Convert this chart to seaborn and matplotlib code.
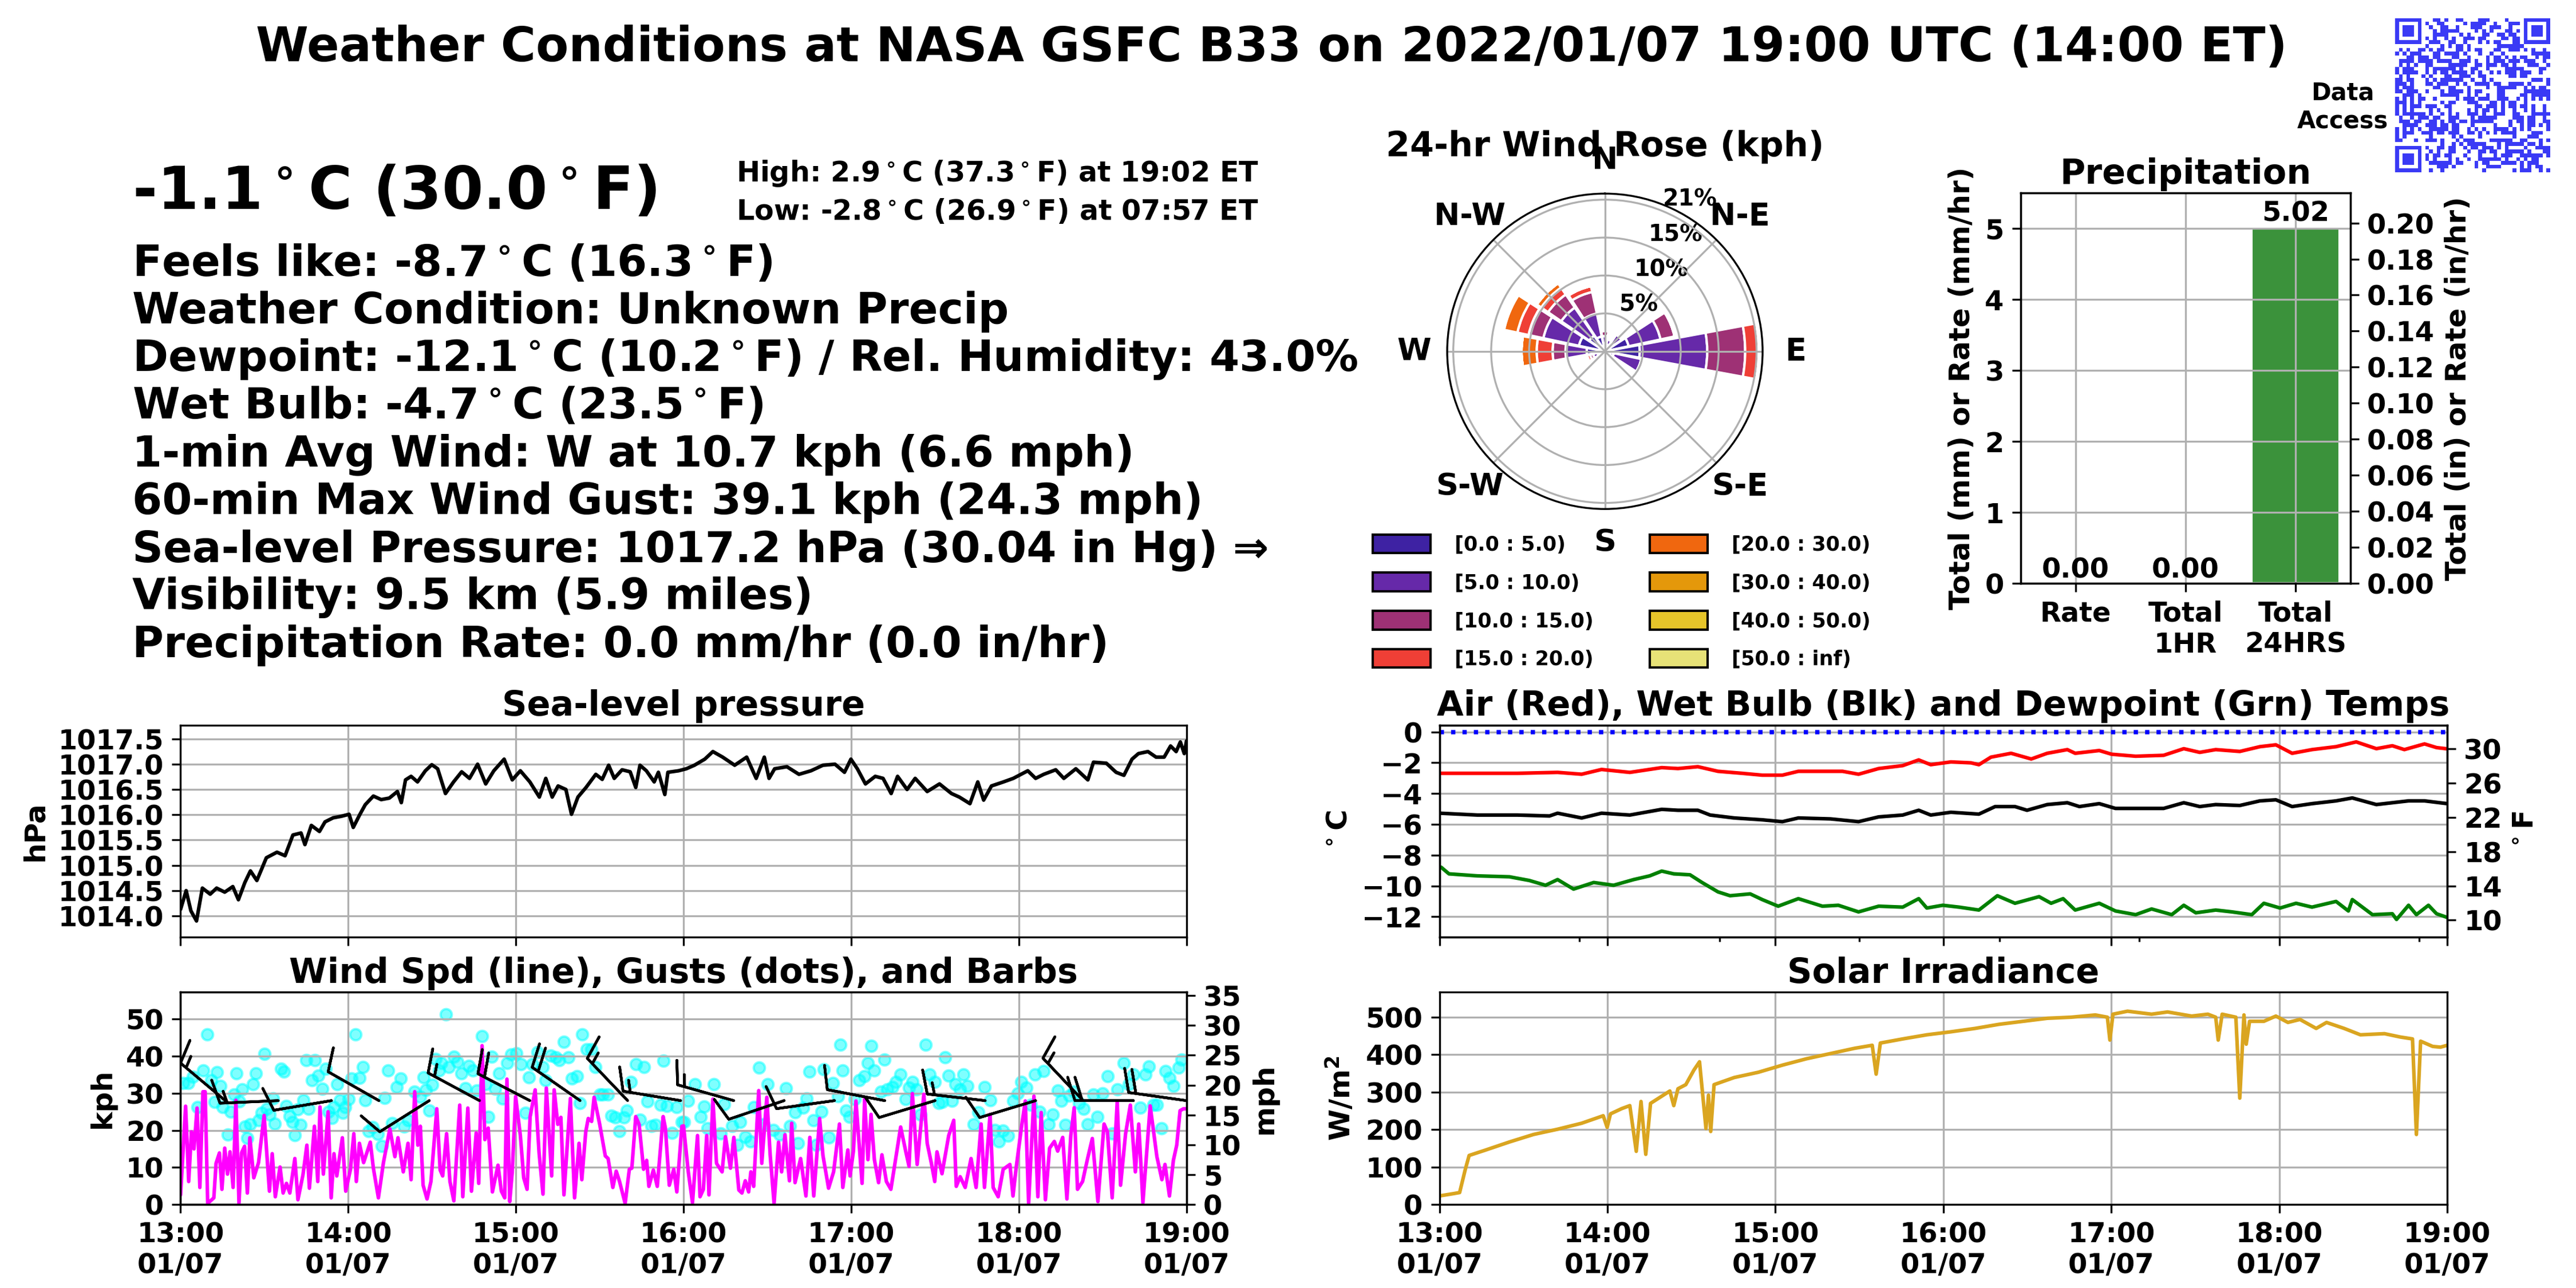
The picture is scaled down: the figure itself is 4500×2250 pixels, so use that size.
import hashlib
import numpy as np
import pandas as pd
import seaborn as sns
import matplotlib
matplotlib.use("Agg")
import matplotlib.pyplot as plt
import matplotlib.dates as mdates
from matplotlib.colors import ListedColormap
from matplotlib.patches import Patch
from matplotlib.ticker import FixedLocator, FormatStrFormatter

# ---------------- data ----------------
T0 = pd.Timestamp("2022-01-07 13:00")

title = "Weather Conditions at NASA GSFC B33 on 2022/01/07 19:00 UTC (14:00 ET)"
now_temp = "-1.1$^\\circ$C (30.0$^\\circ$F)"
high_txt = "High: 2.9$^\\circ$C (37.3$^\\circ$F) at 19:02 ET"
low_txt = "Low: -2.8$^\\circ$C (26.9$^\\circ$F) at 07:57 ET"
info_lines = [
    "Feels like: -8.7$^\\circ$C (16.3$^\\circ$F)",
    "Weather Condition: Unknown Precip",
    "Dewpoint: -12.1$^\\circ$C (10.2$^\\circ$F) / Rel. Humidity: 43.0%",
    "Wet Bulb: -4.7$^\\circ$C (23.5$^\\circ$F)",
    "1-min Avg Wind: W at 10.7 kph (6.6 mph)",
    "60-min Max Wind Gust: 39.1 kph (24.3 mph)",
    "Sea-level Pressure: 1017.2 hPa (30.04 in Hg) \u21d2",
    "Visibility: 9.5 km (5.9 miles)",
    "Precipitation Rate: 0.0 mm/hr (0.0 in/hr)",
]

# sea-level pressure (minutes after 13:00, hPa)
slp_min = [0, 2, 3.7, 5.7, 7.8, 10.6, 12.9, 15.8, 18.7, 20.7,
           23, 25, 27.3, 30.7, 34.5, 37.4, 40.2, 43.1, 44.5, 46.8,
           49.7, 51.7, 54.6, 57.5, 60.3, 61.8, 64.1, 66.1, 69, 71.8,
           74.7, 77.6, 79, 80.5, 82.5, 84.8, 87.6, 89.9, 92, 94.8,
           97.7, 100.6, 103.4, 106.3, 109.2, 112.1, 115.8, 118.7, 121.6, 125,
           128.4, 130.7, 133, 135.1, 137.9, 139.9, 142.2, 145.1, 148.6, 150.9,
           153.2, 155.2, 158, 160.9, 162.9, 164.4, 166.7, 169.5, 171, 173.3,
           174.4, 178.2, 181, 183.9, 187.6, 190.5, 194, 198.3, 202.6, 206,
           208.9, 210.6, 212.6, 217, 221.3, 225.6, 229.9, 234.2, 237.6, 239.9,
           242.2, 245.1, 248.6, 251.4, 254.3, 256.6, 260, 262.9, 267.2, 271.6,
           275.9, 278.7, 282.5, 285.3, 287.4, 290.2, 294.5, 298, 303.2, 306,
           308.9, 313.2, 316.1, 320.4, 324.7, 326.7, 331.3, 334.8, 337.6, 340.5,
           342.8, 346.2, 349.1, 352, 354.3, 356.3, 357.8, 359.2, 360]
slp_hpa = [1014.13, 1014.5, 1014.1, 1013.9, 1014.55, 1014.43, 1014.55, 1014.47, 1014.58, 1014.32,
           1014.66, 1014.89, 1014.7, 1015.15, 1015.26, 1015.19, 1015.6, 1015.64, 1015.41, 1015.79,
           1015.67, 1015.86, 1015.94, 1015.97, 1016.01, 1015.75, 1016.0, 1016.2, 1016.37, 1016.3,
           1016.33, 1016.46, 1016.24, 1016.69, 1016.76, 1016.65, 1016.87, 1016.99, 1016.91, 1016.42,
           1016.65, 1016.85, 1016.72, 1017.0, 1016.61, 1016.87, 1017.1, 1016.69, 1016.87, 1016.65,
           1016.35, 1016.72, 1016.35, 1016.57, 1016.5, 1016.01, 1016.35, 1016.54, 1016.8, 1016.7,
           1016.98, 1016.72, 1016.89, 1016.85, 1016.54, 1016.98, 1016.87, 1016.65, 1016.84, 1016.4,
           1016.84, 1016.87, 1016.91, 1016.98, 1017.1, 1017.25, 1017.14, 1016.98, 1017.14, 1016.72,
           1017.14, 1016.72, 1016.91, 1016.95, 1016.8, 1016.87, 1016.98, 1017.0, 1016.84, 1017.1,
           1016.91, 1016.61, 1016.76, 1016.72, 1016.42, 1016.76, 1016.5, 1016.72, 1016.46, 1016.61,
           1016.42, 1016.35, 1016.22, 1016.65, 1016.29, 1016.57, 1016.65, 1016.72, 1016.87, 1016.72,
           1016.8, 1016.89, 1016.72, 1016.91, 1016.69, 1017.04, 1017.02, 1016.84, 1016.78, 1017.1,
           1017.21, 1017.25, 1017.14, 1017.14, 1017.36, 1017.25, 1017.44, 1017.21, 1017.46]

# 1-min wind speed (kph)
spd_min = [0, 1.8, 2.9, 3.9, 4.8, 5.9, 6.9, 8, 8.8, 9.7,
           11.9, 12.7, 13.9, 14.8, 15.8, 16.8, 17.7, 18.8, 19.8, 20.9,
           21.8, 22.9, 23.9, 24.8, 26.2, 27.9, 29.9, 31.8, 32.8, 33.9,
           35.6, 36.7, 37.9, 39.1, 40.9, 42, 43.8, 45.2, 46.1, 47.9,
           49.1, 49.9, 51.1, 52.8, 53.9, 54.9, 55.9, 57.9, 59.1, 60.8,
           62, 62.9, 64, 65.5, 67.9, 69, 70.8, 72.6, 74.9, 76.7,
           77.8, 79.7, 81.4, 82.5, 83.8, 84.9, 85.8, 86.8, 88.2, 89.6,
           91.7, 92.9, 93.8, 95.2, 96.4, 97.8, 99.9, 101, 102.8, 104.1,
           105.8, 106.7, 107.9, 108.9, 110.1, 111.6, 113.6, 114.8, 116, 116.8,
           117.8, 118.7, 119.9, 121.6, 122.8, 124, 125.1, 126.9, 128.3, 129.7,
           130.9, 132.8, 133.7, 135, 136.1, 137.2, 139.5, 141, 142.6, 143.6,
           145, 145.9, 147.1, 148, 150, 152, 153, 154.7, 155.9, 157.1,
           159.1, 160.6, 161.5, 162.9, 164.1, 165.7, 166.8, 167.6, 169.2, 170.6,
           172.7, 173.5, 174.9, 176.5, 177.6, 179.4,
           180, 181.7, 183.2, 185, 185.9, 187.1, 188.3, 189.1, 190.5, 191.8,
           193.8, 195, 196.8, 198, 199.8, 200.9, 202.1, 203.3, 204.1, 205.1,
           206.9, 208, 209.8, 211, 212.4, 214, 215.1, 216.3, 217.9, 218.7,
           219.9, 221.9, 223.8, 225.2, 226.6, 228.7, 229.9, 231.9, 233.7, 235.8,
           237, 238.8, 239.6, 240.8, 241.7, 243.9, 244.8, 246, 247.1, 248.3,
           249.8, 251, 252.6, 254.2, 257.7, 259.5, 260.7, 261.9, 263.6, 266,
           267.2, 268.7, 269.9, 270.7, 272.5, 274.9, 276.7, 277.6, 279, 280.8,
           282.9, 284.7, 286.5, 287.7, 289.7, 290.8, 292.6, 294.4, 296.8, 297.9,
           299.1, 300.9, 302.3, 303.5, 305.4, 306.8, 308, 309.5, 311, 312.7,
           313.9, 315.7, 317.2, 318.6, 319.8, 321, 322.8, 324.6, 326.3, 328.3,
           330.5, 331.7, 333.4, 335.2, 336.4, 338.2, 339.9, 341.7, 342.9, 344.4,
           347, 349.4, 351.2, 352.3, 353.9, 355.3, 356.5, 357.7, 358.9, 360]
spd_kph = [2.6, 26.5, 6.2, 19.6, 15, 26, 4.6, 30.4, 30.4, 0.3,
           1.8, 11.1, 13.9, 4.1, 15.2, 8.2, 14.2, 4.6, 28.1, 0.3,
           13.9, 15.7, 3.1, 18, 7.2, 11.3, 24, 3.6, 13.7, 2.1,
           10.1, 3.1, 5.7, 3.1, 12.4, 1.3, 8, 16, 4.4, 21.1,
           6.2, 26.3, 8.2, 25, 1.8, 13.7, 7.7, 18, 3.6, 9.5,
           19.1, 6.2, 16.5, 11.3, 16.8, 9.8, 1.8, 11.3, 20.4, 12.9,
           18, 8.8, 16.5, 6.7, 30.4, 16, 21.1, 5.2, 1.5, 6.2,
           25.8, 9.3, 7.7, 19.1, 6.2, 1, 26.8, 2.1, 26, 3.6,
           19.3, 5.7, 42.8, 17.5, 20.6, 3.4, 10.6, 3.6, 1.8, 33.8,
           0.8, 8.8, 29.1, 18.6, 7.2, 4.1, 23.7, 30.9, 13.9, 2.8,
           31.4, 7.7, 30.9, 21.6, 23.5, 2.6, 28.6, 1.8, 16.5, 6.7,
           19.6, 23.2, 22.4, 28.9, 21.6, 13.1, 12.4, 4.6, 9, 6.2,
           0.3, 9.5, 9.8, 23.7, 21.6, 9.5, 11.9, 4.9, 9.3, 4.9,
           23.7, 20.6, 5.2, 9.5, 3.4, 21.1,
           21.2, 8.8, 0.5, 18.6, 2.1, 4.1, 18.6, 2.6, 28.4, 11.1,
           8.8, 18.3, 9.8, 18.1, 3.9, 3.1, 6.4, 3.4, 8.8, 4.9,
           30.7, 11.1, 28.9, 13.4, 0.3, 16.8, 8.8, 18.8, 6.4, 21.9,
           5.9, 12.4, 2.3, 18.1, 2.3, 23.2, 13.2, 4.4, 8.8, 21.7,
           4.6, 14.7, 7.7, 14.4, 27.9, 5.7, 28.4, 12.1, 24.3, 12.1,
           5.9, 13.4, 6.2, 4.1, 20.9, 14.4, 10.3, 29.9, 10.8, 29.7,
           16.5, 11.1, 6.2, 14.2, 8.3, 18.6, 22.7, 4.9, 7.5, 4.6,
           12.4, 4.6, 21.7, 4.6, 24.3, 4.6, 2.1, 9.5, 10.8, 2.3,
           10.3, 20.6, 27.9, 0.3, 29.2, 2.1, 24.8, 1.3, 15.2, 17,
           14.4, 18.1, 1.5, 18.6, 26.1, 4.1, 6.2, 12.4, 17.8, 0.8,
           21.7, 19.6, 1.8, 27.6, 5.2, 19.1, 26.8, 8.8, 21.7, 0.5,
           26.6, 12.9, 6.7, 10.8, 2.3, 11.9, 16, 25.3, 25.8, 25.8]

# wind gusts (kph)
gust_min = [1, 2.7, 4.5, 6, 8, 9.5, 10.9, 12.1, 13, 14.2,
            15, 17, 18, 19.1, 20, 21, 22, 23, 23.8, 25,
            26, 27, 27.9, 29, 30, 30.9, 31.8, 33, 33.8, 35.9,
            37, 37.9, 39.1, 40, 40.9, 42, 43, 44, 45, 45.9,
            47.1, 48.1, 49.3, 50.8, 52, 53, 54.1, 54.9, 56.1, 57.1,
            58.1, 59, 60.2, 61.2, 62.6, 64, 65.2, 66.1, 67.3, 68.7,
            70.6, 72, 73.1, 74.3, 75.7, 77.3, 78.8, 80, 81.4, 83.7,
            85.8, 87, 87.8, 89, 90, 91.3, 92.5, 93.4, 94.9, 96,
            97.8, 99, 100.4, 101.9, 103.1, 104.6, 106, 107.8, 109, 110.1,
            111.3, 112.5, 114, 115.2, 116.8, 118.3, 120.1, 121.9, 123.4, 124.6,
            126, 127.7, 129.5, 130.7, 132.4, 134.2, 135.6, 137.1, 138.9, 140,
            141.8, 143, 143.8, 145.3, 147.1, 148.5, 150, 151.2, 153, 154.1,
            155.6, 157.1, 158.6, 159.8, 161.2, 163, 164.5, 165.9, 167.1, 168.5,
            170, 171.8, 172.9, 174.1, 175.9, 177.6, 179.4,
            180.2, 181.7, 184, 186.2, 187.3, 188.5, 190.9, 193.3, 194.6, 197.4,
            199.2, 200.3, 202.1, 203.9, 205.1, 207.1, 208.6, 210, 212.2, 214.5,
            216.7, 218.1, 219.9, 221, 222.8, 224, 225, 226.4, 227.6, 229.3,
            230.2, 232.1, 233.5, 235.2, 236.1, 237, 238.2, 239.4, 241.2, 242.9,
            244.7, 245.9, 247.1, 248.3, 250.6, 251.8, 253, 254.8, 256, 257.7,
            259.5, 260.7, 261.9, 263.3, 264.9, 266.6, 268, 269.9, 271.3, 272.5,
            273.7, 274.9, 276, 277.2, 279, 280.2, 281.7, 283.8, 285.5, 287.7,
            289.7, 291.4, 292.9, 294.4, 296.2, 297.9, 299.7, 300.9, 302.7, 304.4,
            305.8, 307.4, 308.9, 310.6, 312.1, 313.9, 315.1, 316.6, 318.1, 319.8,
            321.6, 323.1, 324.6, 326.7, 328.1, 329.9, 331.7, 333.5, 335.2, 337.6,
            339.4, 341.1, 343.5, 345.3, 346.5, 348.2, 349.5, 351.1, 352.4, 353.9,
            355.3, 357.1, 358.3]
gust_kph = [32.7, 32.7, 34.5, 26.3, 36.1, 45.9, 33.5, 27.6, 35.7, 32,
            26.2, 18.8, 25, 29.6, 35.3, 27.8, 31, 21, 17.9, 21.6,
            32.5, 35.3, 22.7, 24.7, 40.6, 25.8, 24.2, 28.6, 21.8, 36.6,
            35.8, 26.5, 23.8, 22.2, 18.7, 25.7, 21.4, 28.1, 38.9, 25.8,
            33.5, 38.9, 34.8, 31.2, 36.6, 25, 23.3, 26.2, 32.5, 28.1,
            24.7, 26.3, 28.4, 34, 45.9, 34.1, 37.1, 28.1, 19.8, 20.9,
            19, 15.7, 28.8, 36.1, 21.9, 31.7, 33.9, 21, 22.7, 30.4,
            29.1, 34.3, 30.9, 25.3, 32.2, 39.2, 36.1, 38.1, 51.3, 37.1,
            39.9, 38.4, 35.3, 31.4, 37.4, 36.1, 30.7, 45.4, 32.5, 23.7,
            39.9, 31.2, 35.3, 28.6, 38.2, 40.5, 40.7, 37.9, 24.7, 34.3,
            37.9, 41, 37.1, 33.5, 40.2, 39.7, 38.9, 43.8, 39.7, 34,
            34.6, 27.3, 45.9, 41.8, 41.8, 37.1, 29.6, 29.6, 29.6, 24,
            23.5, 19.8, 23.5, 25.3, 33, 37.9, 22.9, 37.1, 27.8, 21.1,
            21.4, 26.8, 38.7, 26.5, 19.3, 26.3, 22.2,
            22.2, 27.9, 32.5, 23.7, 26.4, 20.6, 32.5, 19.1, 27.1, 21.2,
            16, 22.2, 18.3, 17, 26.3, 36.9, 21.7, 32.5, 20.1, 18.8,
            31.4, 21.1, 24.8, 16.5, 26.1, 28.6, 35.8, 22.7, 16, 25,
            36.4, 18.1, 32.8, 29.2, 43.1, 36.1, 25.3, 23.7, 28.4, 33.5,
            34.6, 38.2, 42.7, 36.1, 30.4, 39, 31, 31.7, 33, 35.1,
            28.4, 31.5, 33, 31, 24.3, 43.1, 35.1, 33, 27.3, 27.6,
            39.7, 34.8, 27.9, 32.5, 31, 35.1, 32, 21.7, 24.8, 31.7,
            28.1, 20.1, 17, 19.9, 18.6, 27.9, 29.9, 33, 31.5, 26.8,
            35.1, 25, 35.9, 21.7, 24.3, 30.7, 27.9, 21.4, 29.4, 30.4,
            27.3, 25.8, 21.7, 29.7, 23.7, 29.9, 34.6, 19.1, 31, 38.2,
            32.5, 35.1, 26.1, 35.1, 37.2, 26.8, 26.9, 20.6, 35.9, 34.1,
            32, 36.9, 39]

# wind barbs (direction wind comes from, deg; speed)
barb_min = [16, 35, 54, 71, 89, 107, 125, 143, 160, 179,
            198, 216, 234, 252, 270, 288, 306, 323, 341, 360]
barb_dir = [310, 267.5, 260.5, 299.6, 237.8, 298.3, 297.4, 304.8, 316.3, 279.3,
            285.7, 251.4, 262.1, 280.8, 253.2, 276.5, 253.2, 316.6, 270, 278]
barb_spd = [15, 15, 10, 10, 10, 15, 20, 20, 15, 15,
            15, 10, 10, 10, 10, 15, 10, 15, 20, 20]

# temperatures (deg C)
air_min = [0, 13.5, 27.8, 42.2, 50.8, 57.9, 68, 79.4, 85.2, 92.3,
           99.5, 108.1, 115.3, 122.5, 128.2, 136.8, 144, 149.7, 156.9, 165.5,
           171.2, 175.5, 182.7, 189.9, 192.7, 197, 204.2, 211.4, 217.1, 224.3,
           227.1, 235.7, 240.1, 248.7, 258.7, 265.9, 271.6, 277.3, 285.9, 293.1,
           298.8, 304.6, 311.7, 320.3, 327.5, 334.7, 340.4, 344.7, 351.9, 356.2, 360]
air_c = [-2.69, -2.69, -2.69, -2.63, -2.75, -2.44, -2.63, -2.32, -2.38, -2.26,
         -2.56, -2.69, -2.81, -2.81, -2.56, -2.56, -2.56, -2.75, -2.38, -2.19,
         -1.82, -2.13, -1.95, -2.01, -2.13, -1.64, -1.39, -1.76, -1.39, -1.15,
         -1.39, -1.21, -1.45, -1.58, -1.52, -1.09, -1.33, -1.15, -1.27, -0.96,
         -0.84, -1.39, -1.15, -0.96, -0.65, -1.09, -0.9, -1.15, -0.78, -1.02, -1.1]
wb_min = [0, 13.5, 27.8, 39.3, 42.2, 50.8, 57.9, 68, 79.4, 85.2,
          92.3, 96.7, 105.3, 115.3, 122.5, 128.2, 139.7, 149.7, 156.9, 165.5,
          171.2, 175.5, 182.7, 192.7, 198.5, 205.6, 209.9, 217.1, 224.3, 228.6,
          235.7, 241.5, 248.7, 258.7, 265.9, 271.6, 277.3, 285.9, 293.1, 298.8,
          304.6, 311.7, 320.3, 326.1, 334.7, 340.4, 346.2, 351.9, 360]
wb_c = [-5.28, -5.4, -5.4, -5.46, -5.28, -5.59, -5.28, -5.4, -5.03, -5.09,
        -5.09, -5.4, -5.59, -5.71, -5.83, -5.59, -5.65, -5.83, -5.52, -5.4,
        -5.09, -5.4, -5.22, -5.34, -4.85, -4.85, -5.09, -4.72, -4.6, -4.85,
        -4.66, -4.97, -4.97, -4.97, -4.6, -4.85, -4.72, -4.78, -4.48, -4.41,
        -4.85, -4.66, -4.48, -4.29, -4.72, -4.6, -4.48, -4.48, -4.66]
dew_min = [0.6, 3.4, 13.5, 25, 32.1, 37.9, 42.2, 47.9, 55.1, 62.2,
           69.4, 75.1, 79.4, 83.7, 89.5, 93.8, 99.5, 103.8, 111, 115.3,
           121, 128.2, 136.8, 142.5, 149.7, 156.9, 165.5, 171.2, 174.1, 179.8,
           185.6, 192.7, 199.3, 205.6, 214.2, 218.5, 222.8, 227.1, 235.7, 241.5,
           248.7, 254.4, 261.6, 265.9, 270.2, 277.3, 283.1, 290.2, 294.5, 300.3,
           306, 311.7, 320.3, 324.7, 326.1, 333.3, 340.4, 341.9, 346.2, 349,
           353.3, 356.2, 360]
dew_c = [-8.79, -9.22, -9.35, -9.41, -9.65, -9.96, -9.59, -10.21, -9.78, -9.96,
         -9.59, -9.35, -9.04, -9.22, -9.28, -9.78, -10.39, -10.64, -10.52, -10.89,
         -11.32, -10.83, -11.32, -11.26, -11.69, -11.32, -11.38, -10.83, -11.44, -11.26,
         -11.38, -11.57, -10.64, -11.13, -10.7, -11.13, -10.83, -11.57, -11.13, -11.63,
         -11.87, -11.5, -11.87, -11.26, -11.75, -11.57, -11.69, -11.87, -11.13, -11.44,
         -11.13, -11.38, -11.01, -11.63, -10.89, -11.87, -11.81, -12.18, -11.26, -11.87,
         -11.26, -11.81, -12.05]

# solar irradiance (W/m2)
sol_min = [0, 4.9, 7.2, 9.2, 10.6, 16.3, 25, 33.6, 42.2, 50.8,
           58.5, 59.9, 61.1, 65.1, 68, 70.3, 72, 73.7, 75.4, 82.3,
           83.7, 85.2, 88, 90.9, 92.9, 95.2, 96.1, 96.9, 98.1, 105.3,
           113.9, 122.5, 131.1, 139.7, 148.3, 154.6, 156, 157.5, 165.5, 174.1,
           182.7, 191.3, 199.9, 208.5, 217.1, 225.7, 234.3, 238.6, 239.5, 240.6,
           245.8, 254.4, 260.1, 268.7, 274.5, 277.3, 278.2, 279.6, 284.5, 285.9,
           287.4, 288.2, 289.4, 294.5, 298.8, 303.1, 307.4, 313.2, 316.9, 323.2,
           329, 337.6, 343.3, 347.6, 349, 350.5, 354.8, 357.6, 360]
sol_w = [23, 29, 32, 93, 131, 145, 167, 187, 201, 217,
         237, 206, 242, 256, 264, 142, 275, 134, 270, 303,
         264, 309, 320, 359, 381, 203, 292, 195, 320, 339,
         353, 372, 389, 403, 417, 425, 348, 431, 442, 453,
         461, 470, 481, 489, 497, 500, 506, 500, 439, 508,
         516, 508, 514, 503, 508, 500, 439, 508, 500, 284,
         506, 428, 489, 489, 503, 486, 494, 470, 486, 470,
         453, 456, 447, 442, 187, 436, 422, 420, 425]

# precipitation
precip_cats = ["Rate", "Total\n1HR", "Total\n24HRS"]
precip_mm = [0.0, 0.0, 5.02]

# 24-hr wind rose: percent of time per direction, stacked by speed bin
rose_dirs = ["N", "NNE", "NE", "ENE", "E", "ESE", "SE", "SSE",
             "S", "SSW", "SW", "WSW", "W", "WNW", "NW", "NNW"]
rose_bins = ["[0.0 : 5.0)", "[5.0 : 10.0)", "[10.0 : 15.0)", "[15.0 : 20.0)",
             "[20.0 : 30.0)", "[30.0 : 40.0)", "[40.0 : 50.0)", "[50.0 : inf)"]
rose_b0 = [1.0, 0.9, 1.4, 3.2, 4.6, 1.2, 0, 0, 0, 0, 0, 1.0, 2.4, 3.5, 2.5, 2.0]
rose_b1 = [1.0, 0.7, 1.3, 4.3, 8.9, 3.7, 0, 0, 0, 0, 0, 0.6, 2.8, 4.8, 4.5, 3.1]
rose_b2 = [0.7, 0, 0, 1.9, 5.0, 0.4, 0, 0, 0, 0, 0, 0.4, 1.7, 2.0, 2.1, 2.9]
rose_b3 = [0, 0, 0, 0, 1.8, 0, 0, 0, 0, 0, 0, 0.4, 2.1, 1.5, 1.1, 0.8]
rose_b4 = [0, 0, 0, 0, 0, 0, 0, 0, 0, 0, 0, 0.3, 2.0, 1.8, 0.7, 0]
rose_b5 = [0, 0, 0, 0, 0, 0, 0, 0, 0, 0, 0, 0, 0, 0.15, 0, 0]
rose_b6 = [0] * 16
rose_b7 = [0] * 16
rose_colors = ["#3e22a3", "#6629a9", "#9e3175", "#ef3f36",
               "#f0670f", "#e4980b", "#e6c52a", "#e7e277"]

# ---------------- style ----------------
sns.set_style("ticks")
plt.rcParams.update({
    "font.family": ["DejaVu Sans"],
    "font.weight": "bold",
    "axes.titleweight": "bold",
    "axes.labelweight": "bold",
    "axes.edgecolor": "black",
    "axes.labelcolor": "black",
    "text.color": "black",
    "xtick.color": "black",
    "ytick.color": "black",
    "axes.linewidth": 0.8,
    "xtick.major.width": 0.8,
    "ytick.major.width": 0.8,
    "xtick.major.size": 3.5,
    "ytick.major.size": 3.5,
    "grid.color": "#b0b0b0",
    "grid.linewidth": 0.8,
    "axes.axisbelow": "line",
})

TICK = 11.5
LAB = 12
TTL = 14.5


def tt(mins):
    return T0 + pd.to_timedelta(np.asarray(mins, dtype=float), unit="min")


fig = plt.figure(figsize=(15, 7.5), dpi=300)

# ---------------- text block ----------------
fig.text(0.4936, 0.9524, title, ha="center", va="baseline", fontsize=20)
fig.text(0.0513, 0.838, now_temp, ha="left", va="baseline", fontsize=25)
fig.text(0.2858, 0.859, high_txt, ha="left", va="baseline", fontsize=11.8)
fig.text(0.2858, 0.8295, low_txt, ha="left", va="baseline", fontsize=11.8)
for i, line in enumerate(info_lines):
    fig.text(0.0513, 0.7859 - i * 0.0370, line, ha="left", va="baseline", fontsize=18)

# ---------------- QR code ----------------
n = 41
seed = b"https://science.gsfc.nasa.gov/weather/data"
bits = []
k = 0
while len(bits) < n * n:
    for byte in hashlib.sha256(seed + str(k).encode()).digest():
        bits.extend((byte >> b) & 1 for b in range(8))
    k += 1
qr = np.array(bits[:n * n]).reshape(n, n)


def finder(m, r, c):
    m[r:r + 8, c:c + 8] = 0
    m[r:r + 7, c:c + 7] = 1
    m[r + 1:r + 6, c + 1:c + 6] = 0
    m[r + 2:r + 5, c + 2:c + 5] = 1


finder(qr, 0, 0)
qr[0:7, n - 8:n] = 0
finder(qr, 0, n - 7)
qr[n - 8:n, 0:8] = 0
finder(qr, n - 7, 0)
ax_q = fig.add_axes([0.9298, 0.866, 0.060, 0.120])
ax_q.imshow(qr, cmap=ListedColormap(["white", "#3a3af5"]), interpolation="nearest", aspect="auto")
ax_q.axis("off")
fig.text(0.9271, 0.917, "Data\nAccess", ha="right", va="center", fontsize=10,
         multialignment="center")

# ---------------- wind rose ----------------
ax_r = fig.add_axes([0.5618, 0.6048, 0.12244, 0.24489], projection="polar")
ax_r.set_theta_zero_location("N")
ax_r.set_theta_direction(-1)
theta = np.deg2rad(np.arange(len(rose_dirs)) * 22.5)
width = np.deg2rad(22.5) * 0.93
bottom = np.zeros(len(rose_dirs))
handles = []
for vals, col, lab in zip([rose_b0, rose_b1, rose_b2, rose_b3, rose_b4, rose_b5, rose_b6, rose_b7],
                          rose_colors, rose_bins):
    vals = np.asarray(vals, dtype=float)
    ax_r.bar(theta, vals, width=width, bottom=bottom, color=col,
             edgecolor="white", linewidth=1.0)
    bottom = bottom + vals
    handles.append(Patch(facecolor=col, edgecolor="black", linewidth=1.0, label=lab))
ax_r.set_rlim(0, 20.8)
ax_r.set_rticks([5, 10, 15, 20])
ax_r.set_yticklabels(["5%", "10%", "15%", "21%"], fontsize=9.5)
ax_r.set_thetagrids(np.arange(0, 360, 45),
                    labels=["N", "N-E", "E", "S-E", "S", "S-W", "W", "N-W"])
ax_r.tick_params(axis="x", labelsize=13, pad=3.5)
ax_r.grid(True)
ax_r.set_title("24-hr Wind Rose (kph)", fontsize=TTL, y=1.119, pad=0)
fig.legend(handles=handles, ncol=2, loc="upper left", bbox_to_anchor=(0.5258, 0.599),
           frameon=False, fontsize=8.4, handlelength=2.9, handleheight=1.05,
           labelspacing=0.9, columnspacing=2.8, handletextpad=1.2)

# ---------------- precipitation ----------------
ax_pr = fig.add_axes([0.7844, 0.547, 0.128, 0.303])
sns.barplot(x=precip_cats, y=precip_mm, color="#3b923b", saturation=1, width=0.8, ax=ax_pr)
for c in ax_pr.containers:
    ax_pr.bar_label(c, fmt="%.2f", fontsize=11.5, fontweight="bold", padding=0)
ax_pr.set_ylim(0, 5.5)
ax_pr.set_yticks(range(0, 6))
ax_pr.grid(True)
ax_pr.set_title("Precipitation", fontsize=TTL, pad=4)
ax_pr.set_ylabel("Total (mm) or Rate (mm/hr)", fontsize=LAB)
ax_pr.tick_params(labelsize=TICK)
ax_pr2 = ax_pr.twinx()
ax_pr2.set_ylim(0, 5.5 / 25.4)
ax_pr2.set_yticks(np.arange(0, 0.201, 0.02))
ax_pr2.yaxis.set_major_formatter(FormatStrFormatter("%.2f"))
ax_pr2.set_ylabel("Total (in) or Rate (in/hr)", fontsize=LAB)
ax_pr2.tick_params(labelsize=TICK)

# ---------------- time series ----------------
xlo, xhi = T0, T0 + pd.Timedelta(hours=6)


def time_axis(ax, labels):
    ax.set_xlim(xlo, xhi)
    ax.xaxis.set_major_locator(mdates.HourLocator())
    ax.xaxis.set_major_formatter(mdates.DateFormatter("%H:%M\n%m/%d"))
    ax.grid(True)
    ax.tick_params(labelsize=TICK)
    if not labels:
        ax.tick_params(axis="x", labelbottom=False)
    ax.set_xlabel("")


ax_p = fig.add_axes([0.0701, 0.2724, 0.3905, 0.1645])
sns.lineplot(x=tt(slp_min), y=slp_hpa, color="black", linewidth=1.5, ax=ax_p)
ax_p.set_ylim(1013.58, 1017.77)
ax_p.set_yticks(np.arange(1014.0, 1017.51, 0.5))
ax_p.yaxis.set_major_formatter(FormatStrFormatter("%.1f"))
ax_p.set_ylabel("hPa", fontsize=LAB)
ax_p.set_title("Sea-level pressure", fontsize=TTL, pad=4)
time_axis(ax_p, False)

ax_w = fig.add_axes([0.0701, 0.0648, 0.3905, 0.1648])
sns.scatterplot(x=tt(gust_min), y=gust_kph, color="cyan", s=22, alpha=0.5,
                edgecolor="cyan", linewidth=1.0, ax=ax_w)
sns.lineplot(x=tt(spd_min), y=spd_kph, color="magenta", linewidth=1.5, ax=ax_w)
d = np.deg2rad(barb_dir)
u = -np.asarray(barb_spd) * np.sin(d)
v = -np.asarray(barb_spd) * np.cos(d)
ax_w.barbs(mdates.date2num(tt(barb_min)), np.full(len(barb_min), 28.0), u, v,
           color="black", linewidth=1.1, length=7, zorder=5)
ax_w.set_ylim(0, 57.2)
ax_w.set_yticks(range(0, 51, 10))
ax_w.set_ylabel("kph", fontsize=LAB)
ax_w.set_title("Wind Spd (line), Gusts (dots), and Barbs", fontsize=TTL, pad=4)
time_axis(ax_w, True)
ax_w2 = ax_w.twinx()
ax_w2.set_ylim(0, 57.2 / 1.609344)
ax_w2.set_yticks(range(0, 36, 5))
ax_w2.set_ylabel("mph", fontsize=LAB)
ax_w2.tick_params(labelsize=TICK)

ax_t = fig.add_axes([0.5588, 0.2724, 0.3912, 0.1645])
ax_t.axhline(0, color="blue", linestyle=":", linewidth=1.8)
sns.lineplot(x=tt(air_min), y=air_c, color="red", linewidth=1.5, ax=ax_t)
sns.lineplot(x=tt(wb_min), y=wb_c, color="black", linewidth=1.5, ax=ax_t)
sns.lineplot(x=tt(dew_min), y=dew_c, color="green", linewidth=1.5, ax=ax_t)
ax_t.set_ylim(-13.33, 0.43)
ax_t.set_yticks(range(-12, 1, 2))
ax_t.set_ylabel("$^\\circ$C", fontsize=LAB)
ax_t.set_title("Air (Red), Wet Bulb (Blk) and Dewpoint (Grn) Temps", fontsize=TTL, pad=4)
time_axis(ax_t, False)
ax_t.xaxis.set_minor_locator(FixedLocator(mdates.date2num(tt(np.arange(50, 351, 50)))))
ax_t.tick_params(axis="x", which="minor", length=1.8, width=0.8)
ax_t2 = ax_t.twinx()
ax_t2.set_ylim(-13.33 * 1.8 + 32, 0.43 * 1.8 + 32)
ax_t2.set_yticks(range(10, 31, 4))
ax_t2.set_ylabel("$^\\circ$F", fontsize=LAB)
ax_t2.tick_params(labelsize=TICK)

ax_s = fig.add_axes([0.5588, 0.0648, 0.3912, 0.1648])
sns.lineplot(x=tt(sol_min), y=sol_w, color="goldenrod", linewidth=1.5, ax=ax_s)
ax_s.set_ylim(0, 566.5)
ax_s.set_yticks(range(0, 501, 100))
ax_s.set_ylabel("W/m$^2$", fontsize=LAB)
ax_s.set_title("Solar Irradiance", fontsize=TTL, pad=4)
time_axis(ax_s, True)

fig.savefig("out.png", dpi=300)
